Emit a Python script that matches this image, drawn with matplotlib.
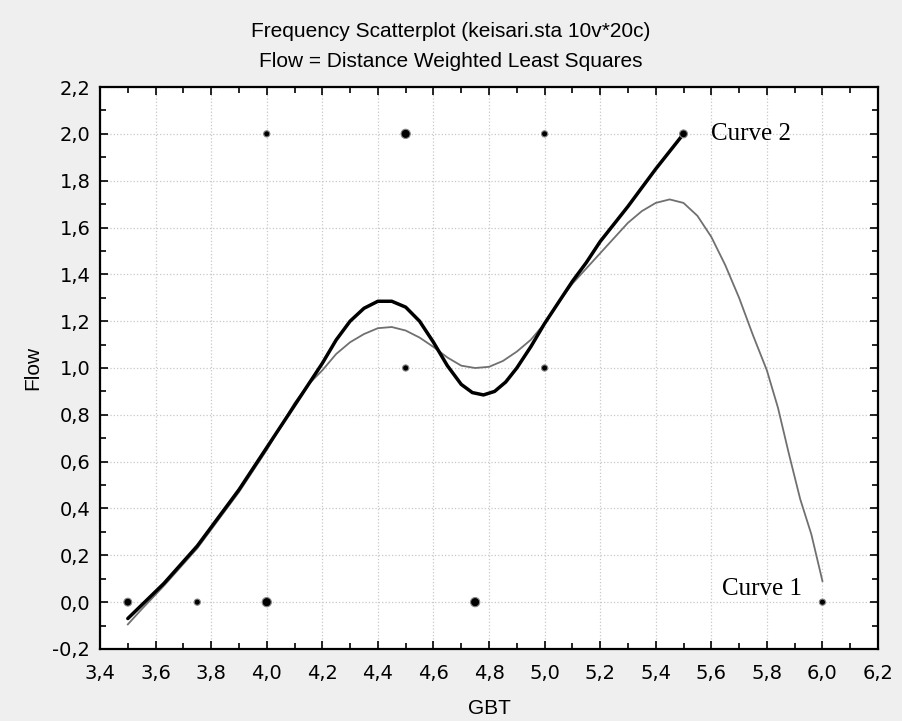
import matplotlib.pyplot as plt
from matplotlib.ticker import MultipleLocator, FuncFormatter

# frequency scatter points (GBT, Flow, count)
pt_x = [3.5, 3.75, 4.0, 4.0, 4.5, 4.5, 4.75, 5.0, 5.0, 5.5, 6.0]
pt_y = [0.0, 0.0, 0.0, 2.0, 2.0, 1.0, 0.0, 2.0, 1.0, 2.0, 0.0]
pt_n = [2, 1, 3, 1, 3, 1, 3, 1, 1, 2, 1]

# curve 1 (grey, thin)
c1_x = [3.5, 3.55, 3.63, 3.75, 3.9, 4.0, 4.1, 4.15, 4.2, 4.25, 4.3, 4.35, 4.4,
        4.45, 4.5, 4.55, 4.6, 4.65, 4.7, 4.75, 4.8, 4.85, 4.9, 4.95, 5.0, 5.05,
        5.1, 5.2, 5.3, 5.35, 5.4, 5.45, 5.5, 5.55, 5.6, 5.65, 5.7, 5.75, 5.8,
        5.84, 5.88, 5.92, 5.96, 6.0]
c1_y = [-0.095, -0.03, 0.07, 0.23, 0.47, 0.65, 0.85, 0.93, 0.99, 1.06, 1.11,
        1.145, 1.17, 1.175, 1.16, 1.13, 1.09, 1.045, 1.01, 1.0, 1.005, 1.03,
        1.07, 1.12, 1.19, 1.28, 1.36, 1.49, 1.62, 1.67, 1.705, 1.72, 1.705,
        1.65, 1.56, 1.44, 1.30, 1.14, 0.99, 0.83, 0.63, 0.44, 0.29, 0.09]

# curve 2 (black, thick)
c2_x = [3.5, 3.63, 3.75, 3.9, 4.0, 4.1, 4.2, 4.25, 4.3, 4.35, 4.4, 4.45, 4.5,
        4.55, 4.6, 4.65, 4.7, 4.74, 4.78, 4.82, 4.86, 4.9, 4.95, 5.0, 5.05,
        5.1, 5.15, 5.2, 5.3, 5.4, 5.5]
c2_y = [-0.07, 0.08, 0.24, 0.48, 0.66, 0.84, 1.02, 1.12, 1.20, 1.255, 1.285,
        1.285, 1.26, 1.20, 1.11, 1.01, 0.93, 0.895, 0.885, 0.9, 0.94, 1.0,
        1.09, 1.19, 1.28, 1.37, 1.45, 1.54, 1.69, 1.85, 2.0]

fig = plt.figure(figsize=(9.02, 7.21), dpi=100, facecolor='#efefef')
ax = fig.add_axes([0.1109, 0.0999, 0.8625, 0.7794])
ax.set_facecolor('white')

ax.plot(c1_x, c1_y, color='#707070', lw=1.3, zorder=3)
ax.plot(c2_x, c2_y, color='black', lw=2.5, zorder=4,
        solid_joinstyle='round', solid_capstyle='round')

sizes = [n * 12 + 8 for n in pt_n]
ax.scatter(pt_x, pt_y, s=sizes, color='black', edgecolors='#888888',
           linewidths=0.8, zorder=5)

ax.text(5.6, 2.0, 'Curve 2', fontfamily='Liberation Serif', fontsize=18,
        va='center', ha='left')
ax.text(5.64, 0.055, 'Curve 1', fontfamily='Liberation Serif', fontsize=18,
        va='center', ha='left')

ax.set_xlim(3.4, 6.2)
ax.set_ylim(-0.2, 2.2)
ax.xaxis.set_major_locator(MultipleLocator(0.2))
ax.yaxis.set_major_locator(MultipleLocator(0.2))
ax.xaxis.set_minor_locator(MultipleLocator(0.1))
ax.yaxis.set_minor_locator(MultipleLocator(0.1))
comma = FuncFormatter(lambda v, p: ('%.1f' % v).replace('.', ','))
ax.xaxis.set_major_formatter(comma)
ax.yaxis.set_major_formatter(comma)
ax.tick_params(which='both', direction='in', top=True, right=True,
               labelsize=14, width=1.2)
ax.tick_params(which='major', length=6)
ax.tick_params(which='minor', length=4)
ax.tick_params(axis='x', which='major', pad=11)
ax.tick_params(axis='y', which='major', pad=7)
ax.grid(which='major', color='#c8c8c8', linestyle=':', linewidth=0.9)
for s in ax.spines.values():
    s.set_linewidth(1.6)

ax.set_xlabel('GBT', fontsize=15, fontfamily='Liberation Sans', labelpad=11)
ax.set_ylabel('Flow', fontsize=15, fontfamily='Liberation Sans', labelpad=7)
fig.text(0.5, 0.957, 'Frequency Scatterplot (keisari.sta 10v*20c)',
         ha='center', va='center', fontsize=15, fontfamily='Liberation Sans')
fig.text(0.5, 0.915, 'Flow = Distance Weighted Least Squares',
         ha='center', va='center', fontsize=15, fontfamily='Liberation Sans')

plt.savefig('out.png', dpi=100, facecolor=fig.get_facecolor())
